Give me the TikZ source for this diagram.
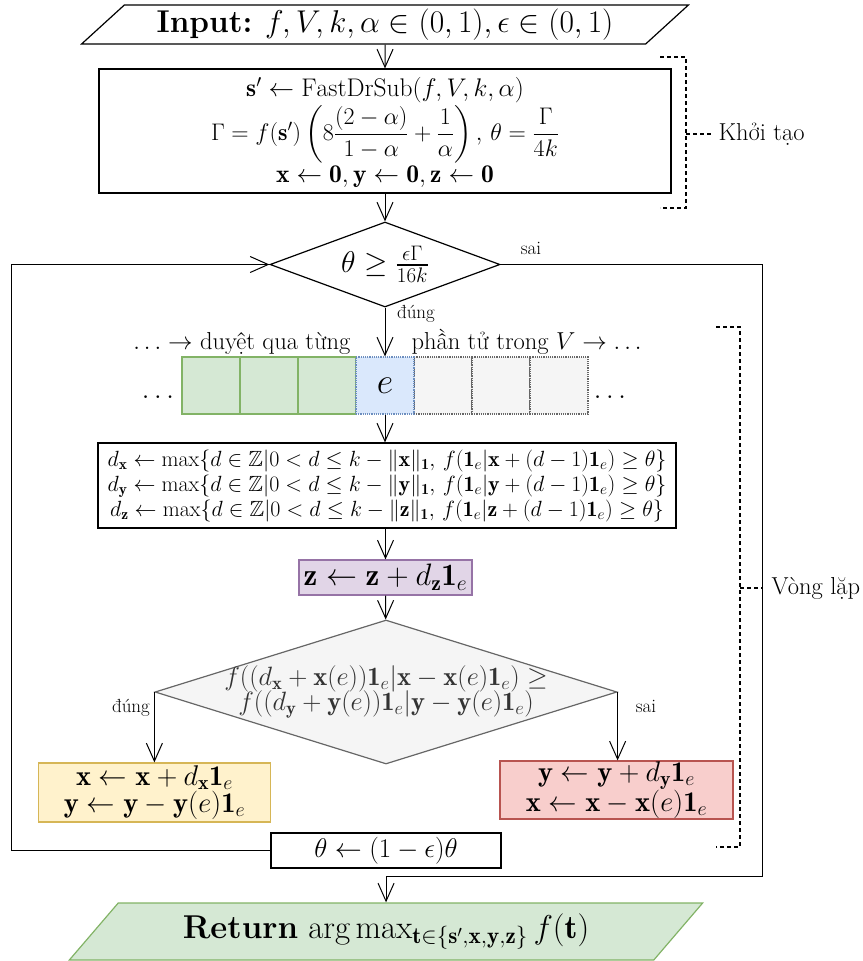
\RequirePackage{fix-cm}
\documentclass[tikz,border=0pt]{standalone}
\usepackage{amsmath,amssymb}
\usepackage{fontspec}
\usetikzlibrary{shapes.geometric,arrows.meta}

\definecolor{greenfill}{HTML}{D5E8D4}
\definecolor{greenline}{HTML}{82B366}
\definecolor{bluefill}{HTML}{DAE8FC}
\definecolor{blueline}{HTML}{6C8EBF}
\definecolor{grayfill}{HTML}{F5F5F5}
\definecolor{grayline}{HTML}{666666}
\definecolor{purplefill}{HTML}{E1D5E7}
\definecolor{purpleline}{HTML}{9673A6}
\definecolor{yellowfill}{HTML}{FFF2CC}
\definecolor{yellowline}{HTML}{D6B656}
\definecolor{redfill}{HTML}{F8CECC}
\definecolor{redline}{HTML}{B85450}
\newcommand{\tightlines}{\setlength{\lineskiplimit}{-20pt}}

\begin{document}
\begin{tikzpicture}
[x=1pt,y=-1pt,line width=1pt,>={Straight Barb[length=18pt,width=16pt]},
 every node/.style={inner sep=0pt,align=center},
 box/.style={draw,rectangle,line width=1.2pt},
 io/.style={draw,trapezium,trapezium stretches=true,line width=1.2pt},
 decision/.style={draw,diamond,line width=1.2pt},
 cell/.style={draw,line width=1.2pt,minimum width=58pt,minimum height=57pt},
 tag/.style={font=\fontsize{19}{22}\selectfont},
 side/.style={font=\fontsize{24.5}{28}\selectfont,anchor=west},
 bracket/.style={line width=1.2pt,dash pattern=on 4pt off 3pt}]
\useasboundingbox (0,0) rectangle (862,961);

\node[io,trapezium left angle=40,trapezium right angle=140,minimum width=608pt,minimum height=39pt,
  font=\fontsize{31.5}{36}\selectfont] (input) at (385,24.5)
  {\textbf{Input:} $f,V,k,\alpha\in(0,1),\epsilon\in(0,1)$};
\node[box,minimum width=572pt,minimum height=124pt,font=\fontsize{25.5}{44}\selectfont\tightlines] (init) at (385,131)
  {\rule{0pt}{22pt}$\mathbf{s}'\leftarrow\mathrm{FastDrSub}(f,V,k,\alpha)$\\
   \smash{\fontsize{24}{44}\selectfont$\Gamma=f(\mathbf{s}')\left(8\dfrac{(2-\alpha)}{1-\alpha}+\dfrac{1}{\alpha}\right),\,\theta=\dfrac{\Gamma}{4k}$}\\[-2pt]
   $\mathbf{x}\leftarrow\mathbf{0},\mathbf{y}\leftarrow\mathbf{0},\mathbf{z}\leftarrow\mathbf{0}$};
\node[decision,aspect=2.7,minimum width=230pt,minimum height=85pt,font=\fontsize{30}{36}\selectfont] (check) at (385,264.5)
  {$\theta\geq\frac{\epsilon\Gamma}{16k}$};

% elements of V
\foreach \i in {1,2,3} {
  \node[cell,draw=greenline,fill=greenfill] (done\i) at ({385-58*\i},385.5) {};
  \node[cell,draw=grayline,fill=grayfill,densely dotted] (todo\i) at ({385+58*\i},385.5) {};
}
\node[cell,draw=blueline,fill=bluefill,densely dotted,font=\fontsize{36}{40}\selectfont] (cur) at (385,385.5) {$e$};
\node[font=\fontsize{24.5}{28}\selectfont,anchor=base east] (before) at (351,349) {$\ldots\rightarrow$ duyệt qua từng};
\node[font=\fontsize{24.5}{28}\selectfont,anchor=base west] (after) at (411,349) {phần tử trong $V\rightarrow\ldots$};
\node[font=\fontsize{28}{32}\selectfont,anchor=base] (ldots) at (158,398) {$\ldots$};
\node[font=\fontsize{28}{32}\selectfont,anchor=base] (rdots) at (610,398) {$\ldots$};

\node[box,minimum width=578pt,minimum height=85pt,font=\fontsize{22}{25}\selectfont] (bounds) at (387,485.5)
  {$d_{\mathbf{x}}\leftarrow\max\{d\in\mathbb{Z}|0<d\leq k-\|\mathbf{x}\|_{\mathbf{1}},\,f(\mathbf{1}_e|\mathbf{x}+(d-1)\mathbf{1}_e)\geq\theta\}$\\
   $d_{\mathbf{y}}\leftarrow\max\{d\in\mathbb{Z}|0<d\leq k-\|\mathbf{y}\|_{\mathbf{1}},\,f(\mathbf{1}_e|\mathbf{y}+(d-1)\mathbf{1}_e)\geq\theta\}$\\
   $d_{\mathbf{z}}\leftarrow\max\{d\in\mathbb{Z}|0<d\leq k-\|\mathbf{z}\|_{\mathbf{1}},\,f(\mathbf{1}_e|\mathbf{z}+(d-1)\mathbf{1}_e)\geq\theta\}$};
\node[box,draw=purpleline,fill=purplefill,minimum width=173pt,minimum height=35pt,font=\fontsize{31}{34}\selectfont] (zupd) at (385.5,577.5)
  {$\mathbf{z}\leftarrow\mathbf{z}+d_{\mathbf{z}}\mathbf{1}_e$};
\node[decision,draw=grayline,fill=grayfill,minimum width=462pt,minimum height=144pt] (cmp) at (386,692) {};
\node[font=\fontsize{26.5}{25}\selectfont\tightlines,text=black!80] (cmptext) at (cmp)
  {$f((d_{\mathbf{x}}+\mathbf{x}(e))\mathbf{1}_e|\mathbf{x}-\mathbf{x}(e)\mathbf{1}_e)\geq$\\
   $f((d_{\mathbf{y}}+\mathbf{y}(e))\mathbf{1}_e|\mathbf{y}-\mathbf{y}(e)\mathbf{1}_e)$};
\node[box,draw=yellowline,fill=yellowfill,minimum width=232pt,minimum height=59pt,font=\fontsize{28.5}{27}\selectfont] (xupd) at (154.5,792.5)
  {$\mathbf{x}\leftarrow\mathbf{x}+d_{\mathbf{x}}\mathbf{1}_e$\\ $\mathbf{y}\leftarrow\mathbf{y}-\mathbf{y}(e)\mathbf{1}_e$};
\node[box,draw=redline,fill=redfill,minimum width=233pt,minimum height=58pt,font=\fontsize{28.5}{27}\selectfont] (yupd) at (616.5,790)
  {$\mathbf{y}\leftarrow\mathbf{y}+d_{\mathbf{y}}\mathbf{1}_e$\\ $\mathbf{x}\leftarrow\mathbf{x}-\mathbf{x}(e)\mathbf{1}_e$};
\node[box,minimum width=230pt,minimum height=35pt,font=\fontsize{27}{32}\selectfont] (shrink) at (386,850.5)
  {$\theta\leftarrow(1-\epsilon)\theta$};
\node[io,draw=greenline,fill=greenfill,trapezium left angle=44.5,trapezium right angle=135.5,minimum width=635pt,minimum height=57pt,
  font=\fontsize{33}{38}\selectfont] (output) at (386,931.5)
  {\textbf{Return} $\arg\max_{\mathbf{t}\in\{\mathbf{s}',\mathbf{x},\mathbf{y},\mathbf{z}\}}f(\mathbf{t})$};

% branch labels
\node[tag] (no1) at (531,248) {sai};
\node[tag] (yes1) at (416,314) {đúng};
\node[tag] (yes2) at (131,708) {đúng};
\node[tag] (no2) at (646,706) {sai};

\coordinate (loopL) at (11,850.5);
\coordinate (exitR) at (762,876);
\draw[->] (input) -- (init);
\draw[->] (init) -- (check);
\draw[->] (check) -- (cur);
\draw[->] (cur) -- (cur |- bounds.north);
\draw[->] (zupd |- bounds.south) -- (zupd);
\draw[->] (zupd) -- (cmp);
\draw[->] (cmp.west) -- (cmp.west |- xupd.north);
\draw[->] (cmp.east) -- (cmp.east |- yupd.north);
\draw[->] (shrink.west) -- (loopL) |- (check.west);
\draw[->] (check.east) -| (exitR) -| (output.north);

% brackets
\node[side] (initlbl) at (718,134) {Khởi tạo};
\node[side] (looplbl) at (771,588) {Vòng lặp};
\draw[bracket] (660,57) -| (686,208) -- (660,208);
\draw[bracket] (686,134) -- ([xshift=-5pt]initlbl.west);
\draw[bracket] (716,327) -| (740,847) -- (716,847);
\draw[bracket] (740,588) -- (762,588);
\end{tikzpicture}
\end{document}
